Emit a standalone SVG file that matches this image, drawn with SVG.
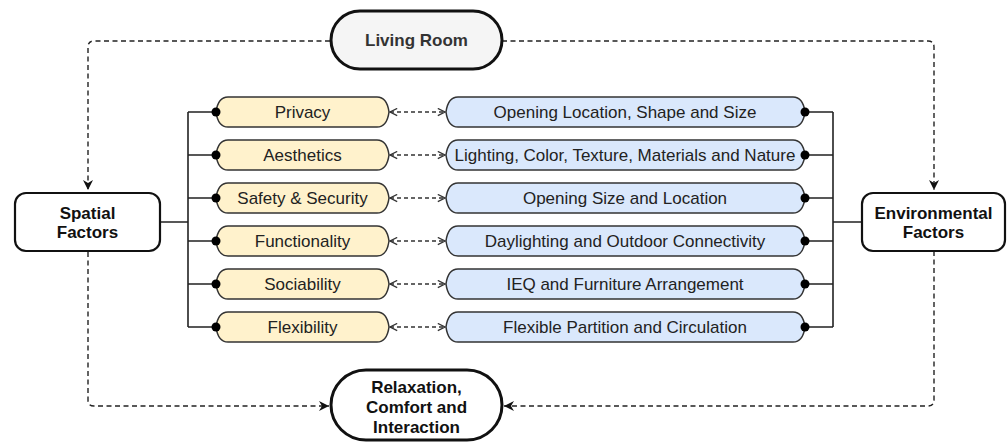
<svg xmlns="http://www.w3.org/2000/svg" xmlns:xlink="http://www.w3.org/1999/xlink" width="1008" height="442" viewBox="0 0 1008 442">
<style>
text{font-family:"Liberation Sans",Arial,sans-serif;font-size:17px;text-anchor:middle;fill:#222}
.b{font-weight:bold;fill:#111}
.lr{font-weight:bold;fill:#333}
.main{fill:#fff;stroke:#111;stroke-width:2.2}
.thick{stroke-width:3}
.yel{fill:#fff2cc;stroke:#333;stroke-width:1.5}
.blu{fill:#dae8fc;stroke:#333;stroke-width:1.5}
.dot{fill:#000}
.solid{fill:none;stroke:#222;stroke-width:1.6}
.dash{fill:none;stroke:#222;stroke-width:1.4;stroke-dasharray:5 3.5}
.sdash{fill:none;stroke:#333;stroke-width:1.3;stroke-dasharray:4 3}
</style>
<defs>
<marker id="chev" viewBox="0 0 10 10" refX="9" refY="5" markerWidth="9" markerHeight="9" markerUnits="userSpaceOnUse" orient="auto-start-reverse">
<path d="M1,1 L9,5 L1,9" fill="none" stroke="#333" stroke-width="1.4"/>
</marker>
<marker id="arr" viewBox="0 0 10 10" refX="10" refY="5" markerWidth="10" markerHeight="10" markerUnits="userSpaceOnUse" orient="auto">
<path d="M0,0 L10,5 L0,10 L3,5 Z" fill="#111"/>
</marker>
<path id="yp" class="yel" d="M12,0 H161 Q171,0 173,15 Q171,30 161,30 H12 Q2,30 0,15 Q2,0 12,0 Z"/>
<path id="bp" class="blu" d="M12,0 H347 Q357,0 359,15 Q357,30 347,30 H12 Q2,30 0,15 Q2,0 12,0 Z"/>
</defs>

<g id="connectors">
<path class="dash" d="M330,41 H94 Q88,41 88,47 V190" marker-end="url(#arr)"/>
<path class="dash" d="M502,41 H928 Q934,41 934,47 V190" marker-end="url(#arr)"/>
<path class="dash" d="M88,252 V400 Q88,406 94,406 H329" marker-end="url(#arr)"/>
<path class="dash" d="M934,251 V400 Q934,406 928,406 H504" marker-end="url(#arr)"/>
<path class="solid" d="M160,222 H188 M188,112 V327 M188,112 H216 M188,155 H216 M188,198 H216 M188,241 H216 M188,284 H216 M188,327 H216"/>
<path class="solid" d="M862,222 H833 M833,112 V327 M805,112 H833 M805,155 H833 M805,198 H833 M805,241 H833 M805,284 H833 M805,327 H833"/>
<line class="sdash" x1="390" y1="112" x2="445" y2="112" marker-start="url(#chev)" marker-end="url(#chev)"/>
<line class="sdash" x1="390" y1="155" x2="445" y2="155" marker-start="url(#chev)" marker-end="url(#chev)"/>
<line class="sdash" x1="390" y1="198" x2="445" y2="198" marker-start="url(#chev)" marker-end="url(#chev)"/>
<line class="sdash" x1="390" y1="241" x2="445" y2="241" marker-start="url(#chev)" marker-end="url(#chev)"/>
<line class="sdash" x1="390" y1="284" x2="445" y2="284" marker-start="url(#chev)" marker-end="url(#chev)"/>
<line class="sdash" x1="390" y1="327" x2="445" y2="327" marker-start="url(#chev)" marker-end="url(#chev)"/>
</g>

<g id="living-room">
<rect class="main thick" x="331" y="11" width="171" height="58" rx="29" fill="#f5f5f5" style="fill:#f5f5f5"/>
<text class="lr" x="416.5" y="46">Living Room</text>
</g>

<g id="spatial-factors">
<rect class="main" x="15" y="193" width="145" height="58" rx="11"/>
<text class="b" x="87.5" y="219">Spatial</text>
<text class="b" x="87.5" y="238">Factors</text>
</g>

<g id="environmental-factors">
<rect class="main" x="862" y="193" width="143" height="58" rx="11"/>
<text class="b" x="933.5" y="219">Environmental</text>
<text class="b" x="933.5" y="238">Factors</text>
</g>

<g id="relaxation">
<rect class="main thick" x="331" y="370" width="171" height="70" rx="35"/>
<text class="b" x="416.5" y="393">Relaxation,</text>
<text class="b" x="416.5" y="413">Comfort and</text>
<text class="b" x="416.5" y="433">Interaction</text>
</g>

<g id="privacy"><use xlink:href="#yp" x="216" y="97"/><circle class="dot" cx="216" cy="112" r="4.5"/><text x="302.5" y="118">Privacy</text></g>
<g id="aesthetics"><use xlink:href="#yp" x="216" y="140"/><circle class="dot" cx="216" cy="155" r="4.5"/><text x="302.5" y="161">Aesthetics</text></g>
<g id="safety"><use xlink:href="#yp" x="216" y="183"/><circle class="dot" cx="216" cy="198" r="4.5"/><text x="302.5" y="204">Safety &amp; Security</text></g>
<g id="functionality"><use xlink:href="#yp" x="216" y="226"/><circle class="dot" cx="216" cy="241" r="4.5"/><text x="302.5" y="247">Functionality</text></g>
<g id="sociability"><use xlink:href="#yp" x="216" y="269"/><circle class="dot" cx="216" cy="284" r="4.5"/><text x="302.5" y="290">Sociability</text></g>
<g id="flexibility"><use xlink:href="#yp" x="216" y="312"/><circle class="dot" cx="216" cy="327" r="4.5"/><text x="302.5" y="333">Flexibility</text></g>

<g id="opening-location"><use xlink:href="#bp" x="446" y="97"/><circle class="dot" cx="805" cy="112" r="4.5"/><text x="625" y="118">Opening Location, Shape and Size</text></g>
<g id="lighting"><use xlink:href="#bp" x="446" y="140"/><circle class="dot" cx="805" cy="155" r="4.5"/><text x="625" y="161">Lighting, Color, Texture, Materials and Nature</text></g>
<g id="opening-size"><use xlink:href="#bp" x="446" y="183"/><circle class="dot" cx="805" cy="198" r="4.5"/><text x="625" y="204">Opening Size and Location</text></g>
<g id="daylighting"><use xlink:href="#bp" x="446" y="226"/><circle class="dot" cx="805" cy="241" r="4.5"/><text x="625" y="247">Daylighting and Outdoor Connectivity</text></g>
<g id="ieq"><use xlink:href="#bp" x="446" y="269"/><circle class="dot" cx="805" cy="284" r="4.5"/><text x="625" y="290">IEQ and Furniture Arrangement</text></g>
<g id="flexible-partition"><use xlink:href="#bp" x="446" y="312"/><circle class="dot" cx="805" cy="327" r="4.5"/><text x="625" y="333">Flexible Partition and Circulation</text></g>
</svg>
